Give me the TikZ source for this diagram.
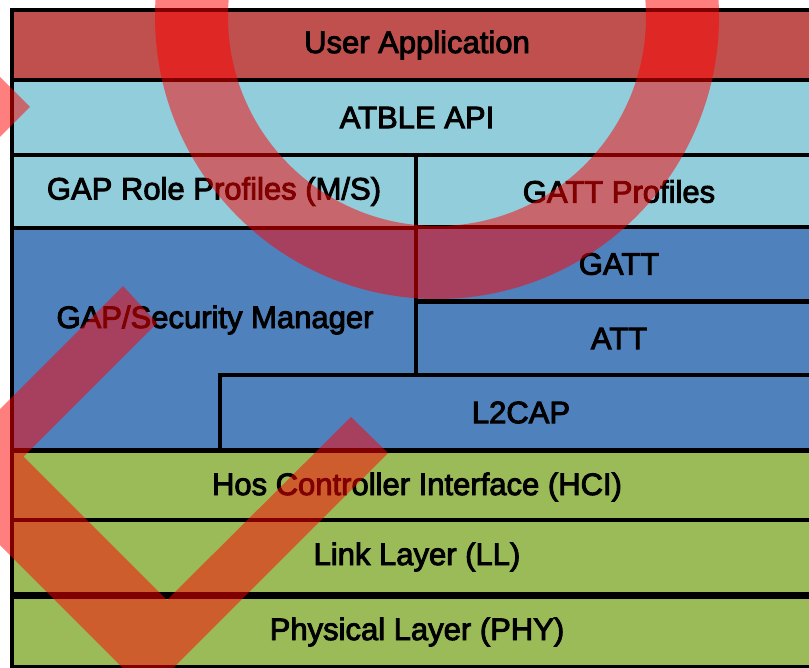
\documentclass[tikz,border=0pt]{standalone}
\usepackage{fontspec}
\setmainfont{Liberation Sans}
\newfontfamily\layerfont{Liberation Sans}[FakeBold=3]
\usepackage{tikz}

\definecolor{appred}{HTML}{C0504D}
\definecolor{apiblue}{HTML}{92CDDC}
\definecolor{hostblue}{HTML}{4F81BD}
\definecolor{ctrlgreen}{HTML}{9BBB59}

\tikzset{
  layer/.style={draw=black, line width=3.5pt, inner sep=0pt,
    font=\layerfont\fontsize{31}{31}\selectfont},
  redstroke/.style={red, line width=73pt},
}

\begin{document}
\begin{tikzpicture}[x=1pt,y=-1pt]
          \useasboundingbox (0,0) rectangle (809,668);
          \clip (0,0) rectangle (809,668);
          % user application and API
          \node[layer, fill=appred, minimum width=810pt, minimum height=70pt] (app) at (417,45) {User Application};
          \node[layer, fill=apiblue, minimum width=810pt, minimum height=75pt] (api) at (417,117.5) {ATBLE API};
          % profiles
          \node[layer, fill=apiblue, minimum width=404pt, minimum height=73pt] (gaprole) at (214,191.5) {GAP Role Profiles (M/S)};
          \node[layer, fill=apiblue, minimum width=406pt, minimum height=73pt] (gattprof) at (619,191.5) {GATT Profiles};
          % host
          \node[layer, fill=hostblue, minimum width=404pt, minimum height=222pt] (gapsec) at (214,339) {};
          \node[font=\layerfont\fontsize{31}{31}\selectfont, inner sep=0pt] (gapsectext) at (215,320) {GAP/Security Manager};
          \node[layer, fill=hostblue, minimum width=406pt, minimum height=74pt] (gatt) at (619,264) {GATT};
          \node[layer, fill=hostblue, minimum width=406pt, minimum height=73pt] (att) at (619,338.5) {ATT};
          \node[layer, fill=hostblue, minimum width=602pt, minimum height=75pt] (l2cap) at (521,412.5) {L2CAP};
          % controller
          \node[layer, fill=ctrlgreen, minimum width=810pt, minimum height=72pt] (hci) at (417,487) {Hos Controller Interface (HCI)};
          \node[layer, fill=ctrlgreen, minimum width=810pt, minimum height=74pt] (ll) at (417,557) {Link Layer (LL)};
          \node[layer, fill=ctrlgreen, minimum width=810pt, minimum height=70pt] (phy) at (417,632) {Physical Layer (PHY)};
          % red marks on top
          \begin{scope}[transparency group, opacity=0.5]
            \draw[redstroke] (437,17) circle [radius=245.5];
            \fill[red] (123,286) -- (157,323) -- (-43,523) -- (-77,486) -- cycle;
            \fill[red] (-60,373) -- (167,600) -- (351,417) -- (388,453) -- (148,693) -- (-60,485) -- cycle;
            \fill[red] (30,107) -- (-20,57) -- (-20,157) -- cycle;
          \end{scope}
        \end{tikzpicture}
\end{document}
